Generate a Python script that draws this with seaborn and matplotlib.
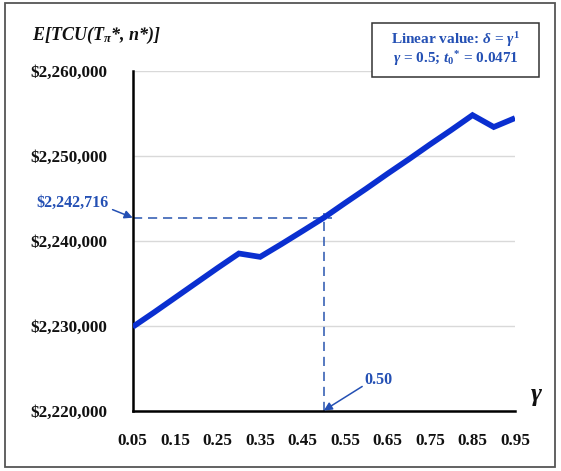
import matplotlib
matplotlib.use("Agg")
import matplotlib.pyplot as plt
import matplotlib.ticker as mticker
from matplotlib.patches import Rectangle
import seaborn as sns
import pandas as pd

# ---- data ----
gamma = [0.05, 0.10, 0.15, 0.20, 0.25, 0.30, 0.35, 0.40, 0.45, 0.50,
         0.55, 0.60, 0.65, 0.70, 0.75, 0.80, 0.85, 0.90, 0.95]
etcu = [2229850, 2231550, 2233300, 2235050, 2236800, 2238500, 2238100,
        2239600, 2241150, 2242716, 2244450, 2246150, 2247900, 2249600,
        2251350, 2253050, 2254800, 2253400, 2254450]
xtick_vals = [0.05, 0.15, 0.25, 0.35, 0.45, 0.55, 0.65, 0.75, 0.85, 0.95]
ytick_vals = [2220000, 2230000, 2240000, 2250000, 2260000]
opt_gamma = 0.50
opt_value = 2242716
legend_lines = [r"Linear value: $\delta$ = $\gamma^{1}$",
                r"$\gamma$ = 0.5; $t_{0}{}^{*}$ = 0.0471"]

df = pd.DataFrame({"gamma": gamma, "etcu": etcu})

sns.set_style("white")
plt.rcParams["font.family"] = ["Liberation Serif", "DejaVu Serif"]
plt.rcParams["font.weight"] = "bold"
plt.rcParams["mathtext.fontset"] = "custom"
plt.rcParams["mathtext.rm"] = "Liberation Serif:bold"
plt.rcParams["mathtext.it"] = "Liberation Serif:italic:bold"
plt.rcParams["mathtext.bf"] = "Liberation Serif:bold"

W, H = 561, 471
fig = plt.figure(figsize=(W / 100, H / 100), dpi=100)
ax = fig.add_axes([132.7 / W, 1 - 410.5 / H, (515 - 132.7) / W, (410.5 - 71) / H])

LINE_BLUE = "#0A2FD0"
TEXT_BLUE = "#2450B4"
DASH_BLUE = "#3A62B5"

ax.set_axisbelow(True)
ax.yaxis.grid(True, color="#D9D9D9", lw=1.0)
ax.xaxis.grid(False)

sns.lineplot(data=df, x="gamma", y="etcu", ax=ax, color=LINE_BLUE, lw=4.1,
             solid_joinstyle="miter", solid_capstyle="butt", zorder=3)

# reference crosshair for optimum
ax.plot([gamma[0], opt_gamma + 0.02], [opt_value, opt_value], ls=(0, (5.5, 3.5)),
        color=DASH_BLUE, lw=1.2, zorder=2)
ax.plot([opt_gamma, opt_gamma], [ytick_vals[0], opt_value + 600], ls=(0, (5.5, 3.5)),
        color=DASH_BLUE, lw=1.2, zorder=2)

ax.set_xlim(xtick_vals[0], xtick_vals[-1])
ax.set_ylim(ytick_vals[0], ytick_vals[-1])
ax.set_xticks(xtick_vals)
ax.set_xticklabels([f"{v:.2f}" for v in xtick_vals])
ax.set_yticks(ytick_vals)
ax.yaxis.set_major_formatter(mticker.FuncFormatter(lambda v, p: "\\$" + f"{int(v):,}"))

for s in ["top", "right"]:
    ax.spines[s].set_visible(False)
for s in ["left", "bottom"]:
    ax.spines[s].set_color("black")
    ax.spines[s].set_linewidth(1.8)
ax.tick_params(axis="both", direction="out", length=5, width=1.8, color="black",
               labelsize=12.3, labelcolor="#111111")
ax.tick_params(axis="y", pad=13)
ax.tick_params(axis="x", pad=11)
for lab in ax.get_xticklabels() + ax.get_yticklabels():
    lab.set_fontweight("bold")

ax.set_xlabel("")
ax.set_ylabel("")

# axis titles
fig.text(32 / W, 1 - 35 / H, r"$E$[$TCU$($T_{\pi}$*, $n$*)]", fontsize=13,
         fontweight="bold", style="italic", ha="left", va="center", color="#111111")
fig.text(536 / W, 1 - 396 / H, r"$\gamma$", fontsize=19, ha="center", va="center",
         color="#111111")

# annotations
ax.annotate("", xy=(gamma[0], opt_value), xytext=(-14.5, 5.8), textcoords="offset points",
            arrowprops=dict(arrowstyle="-|>", color=TEXT_BLUE, lw=1.1,
                            mutation_scale=12, shrinkA=0, shrinkB=0),
            annotation_clip=False)
ax.annotate("\\$" + f"{opt_value:,}", xy=(gamma[0], opt_value), xytext=(-43, 11),
            textcoords="offset points", ha="center", va="center", fontsize=11.5,
            fontweight="bold", color=TEXT_BLUE, annotation_clip=False)
ax.annotate("", xy=(opt_gamma, ytick_vals[0]), xytext=(27.6, 17.3), textcoords="offset points",
            arrowprops=dict(arrowstyle="-|>", color=TEXT_BLUE, lw=1.1,
                            mutation_scale=12, shrinkA=0, shrinkB=0),
            annotation_clip=False)
ax.annotate(f"{opt_gamma:.2f}", xy=(opt_gamma, ytick_vals[0]), xytext=(39.5, 22.3),
            textcoords="offset points", ha="center", va="center", fontsize=11.5,
            fontweight="bold", color=TEXT_BLUE, annotation_clip=False)

# legend-like info box
fig.patches.append(Rectangle((372 / W, 1 - 77 / H), (539 - 372) / W, (77 - 23) / H,
                             transform=fig.transFigure, fill=True, facecolor="white",
                             edgecolor="#333333", lw=1.1, zorder=5))
fig.text(455.5 / W, 1 - 40 / H, legend_lines[0], fontsize=11, fontweight="bold",
         color=TEXT_BLUE, ha="center", va="center", zorder=6)
fig.text(455.5 / W, 1 - 59 / H, legend_lines[1], fontsize=11, fontweight="bold",
         color=TEXT_BLUE, ha="center", va="center", zorder=6)

# outer frame
fig.patches.append(Rectangle((5 / W, 1 - 467 / H), (555 - 5) / W, (467 - 3) / H,
                             transform=fig.transFigure, fill=False,
                             edgecolor="#555555", lw=1.3, zorder=0))

fig.savefig("out.png", dpi=100)
